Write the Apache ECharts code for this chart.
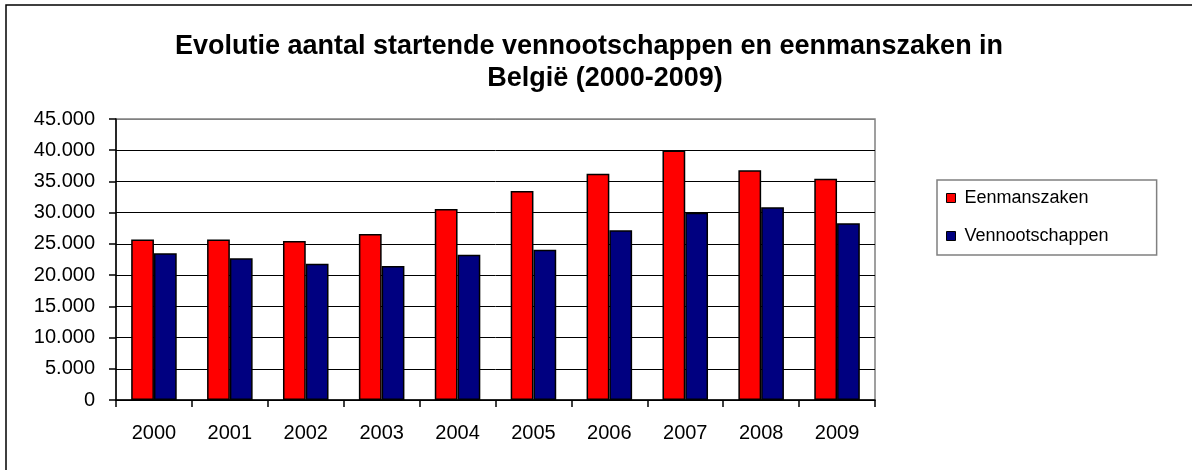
<!DOCTYPE html>
<html>
<head>
<meta charset="utf-8">
<script src="https://cdn.jsdelivr.net/npm/echarts@6/dist/echarts.min.js"></script>
<style>html,body{margin:0;padding:0;background:#fff}#c{width:1192px;height:470px}</style>
</head>
<body>
<div id="c"></div>
<script>
var categories = ['2000','2001','2002','2003','2004','2005','2006','2007','2008','2009'];
var eenmanszaken = [25700, 25700, 25450, 26600, 30600, 33450, 36250, 39950, 36800, 35450];
var vennootschappen = [23500, 22700, 21800, 21450, 23250, 24050, 27200, 30000, 30850, 28300];
var seriesNames = ['Eenmanszaken', 'Vennootschappen'];
var titleLine1 = 'Evolutie aantal startende vennootschappen en eenmanszaken in';
var titleLine2 = 'België (2000-2009)';

var chart = echarts.init(document.getElementById('c'), null, {renderer: 'canvas'});
var FONT = 'Arial, "Liberation Sans", sans-serif';
function fmt(v) { return String(v).replace(/\B(?=(\d{3})+(?!\d))/g, '.'); }
var splitColors = ['#000','#000','#000','#000','#000','#000','#000','#000','#000','#808080'];

chart.setOption({
  animation: false,
  backgroundColor: '#fff',
  title: [
    {text: titleLine1, left: 589, textAlign: 'center', top: 33, padding: 0,
     textStyle: {fontFamily: FONT, fontSize: 27, fontWeight: 'bold', color: '#000'}},
    {text: titleLine2, left: 605, textAlign: 'center', top: 65, padding: 0,
     textStyle: {fontFamily: FONT, fontSize: 27, fontWeight: 'bold', color: '#000'}}
  ],
  graphic: [{
    type: 'rect', silent: true, z: -1,
    shape: {x: 6, y: 5, width: 1200, height: 480},
    style: {fill: 'none', stroke: '#000', lineWidth: 1.5}
  }],
  legend: {
    orient: 'vertical', left: 937, top: 180,
    padding: [9, 48, 10, 9], itemGap: 20,
    itemWidth: 9, itemHeight: 9, itemStyle: {borderColor: '#000', borderWidth: 1},
    borderColor: '#808080', borderWidth: 1.5,
    textStyle: {fontFamily: FONT, fontSize: 18, color: '#000', padding: [0, 0, 0, 4]},
    icon: 'rect',
    data: seriesNames
  },
  grid: {left: 116, right: 317, top: 119, bottom: 70, show: true,
         borderColor: '#808080', borderWidth: 1.5, containLabel: false},
  xAxis: {
    type: 'category', data: categories, boundaryGap: true,
    axisLine: {lineStyle: {color: '#000', width: 1.5}},
    axisTick: {show: true, length: 7, alignWithLabel: false, lineStyle: {color: '#000', width: 1.5}},
    axisLabel: {fontFamily: FONT, fontSize: 20, color: '#000', margin: 23},
    splitLine: {show: false}
  },
  yAxis: {
    type: 'value', min: 0, max: 45000, interval: 5000,
    axisLine: {show: true, lineStyle: {color: '#000', width: 1.5}},
    axisTick: {show: true, length: 7, lineStyle: {color: '#000', width: 1.5}},
    axisLabel: {fontFamily: FONT, fontSize: 20, color: '#000', margin: 21, formatter: fmt},
    splitLine: {show: true, lineStyle: {color: splitColors, width: 1}}
  },
  series: [
    {name: seriesNames[0], type: 'bar', data: eenmanszaken, barGap: '0%', barCategoryGap: '40%',
     itemStyle: {color: '#ff0000', borderColor: '#000', borderWidth: 1.5}},
    {name: seriesNames[1], type: 'bar', data: vennootschappen, barGap: '0%', barCategoryGap: '40%',
     itemStyle: {color: '#000080', borderColor: '#000', borderWidth: 1.5}}
  ]
});
</script>
</body>
</html>
